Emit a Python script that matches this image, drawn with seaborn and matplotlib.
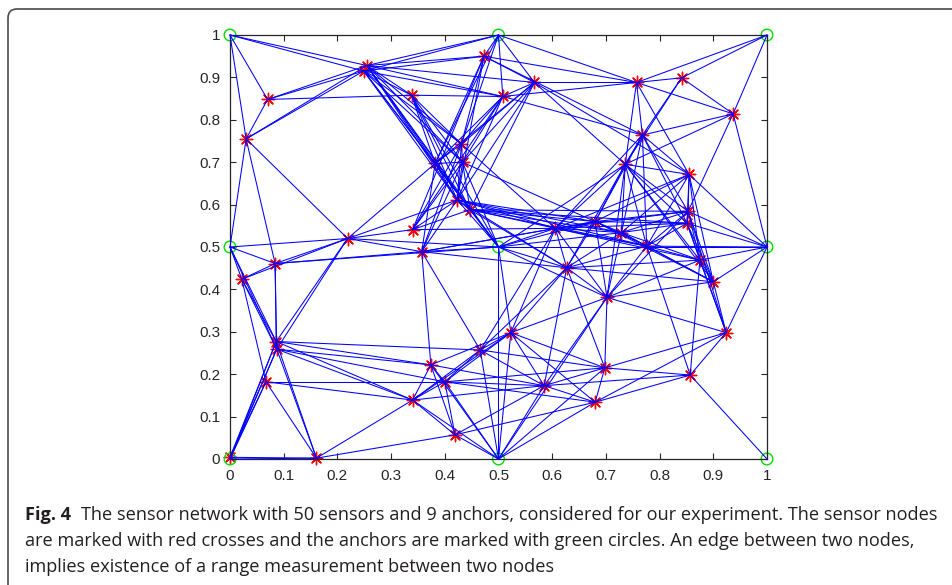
import numpy as np
import pandas as pd
import matplotlib
matplotlib.use("Agg")
import matplotlib.pyplot as plt
import seaborn as sns
from matplotlib.patches import FancyBboxPatch

# ---------------- data ----------------
sensor_names = ["A", "B", "C", "D", "E", "F", "G", "H", "I", "J",
                "K", "L", "M", "N", "O", "P", "Q", "R", "S", "T",
                "U", "V", "W", "X", "Y", "Z", "AA", "AB", "AC", "AD",
                "AE", "AF", "AG", "AH", "AI", "AJ", "AK", "AL", "AM", "AN",
                "AO", "AP", "AQ", "AR", "AS", "AT", "AU", "AV", "AW", "AX"]
sensor_x = [0.255, 0.249, 0.070, 0.030, 0.338, 0.473, 0.508, 0.567, 0.757, 0.841,
            0.937, 0.768, 0.736, 0.431, 0.382, 0.433, 0.423, 0.447, 0.340, 0.219,
            0.357, 0.022, 0.084, 0.086, 0.087, 0.067, 0.000, 0.161, 0.340, 0.374,
            0.400, 0.419, 0.466, 0.523, 0.585, 0.680, 0.698, 0.702, 0.627, 0.857,
            0.924, 0.900, 0.875, 0.776, 0.606, 0.680, 0.729, 0.853, 0.851, 0.855]
sensor_y = [0.928, 0.915, 0.848, 0.755, 0.858, 0.950, 0.855, 0.888, 0.888, 0.899,
            0.814, 0.764, 0.695, 0.743, 0.697, 0.700, 0.611, 0.588, 0.541, 0.520,
            0.489, 0.424, 0.461, 0.277, 0.259, 0.182, 0.004, 0.002, 0.139, 0.222,
            0.182, 0.057, 0.257, 0.298, 0.173, 0.134, 0.215, 0.381, 0.451, 0.198,
            0.298, 0.418, 0.469, 0.502, 0.544, 0.560, 0.534, 0.584, 0.556, 0.671]

anchor_names = ["BL", "BM", "BR", "ML", "MM", "MR", "TL", "TM", "TR"]
anchor_x = [0.0, 0.5, 1.0, 0.0, 0.5, 1.0, 0.0, 0.5, 1.0]
anchor_y = [0.0, 0.0, 0.0, 0.5, 0.5, 0.5, 1.0, 1.0, 1.0]

edges = """
TL-A TL-B TL-C TL-D
C-A C-B C-E C-D
D-A D-B D-T D-ML D-W
A-E B-E A-F B-F A-TM B-TM A-G B-G A-H A-N A-O A-P A-Q A-R A-MM B-N B-O B-P B-Q B-R
E-G E-N E-O E-P E-Q E-R E-MM
F-TM F-H F-I F-L F-N F-O F-Q F-S
TM-G TM-H TM-N TM-O TM-I
G-H G-I G-L G-N G-O G-P G-Q G-S
H-I H-M H-AX H-N H-O H-P H-Q H-R
I-J I-TR I-K I-L I-M I-AX
J-TR J-K J-L J-M
K-TR K-L K-M K-AV K-MR
L-M L-AX L-AV L-AW L-AR L-AS L-AT L-AU
M-AX M-AS M-AT M-AU M-AR M-AL M-AM M-MM M-AV M-AW M-AP M-AQ
AX-MR AX-AV AX-AW AX-AS AX-AT AX-AU AX-AR AX-AQ AX-AP
N-O N-P O-P O-Q P-Q Q-R N-Q P-R O-R
Q-AS R-AS Q-AT R-AT R-AU Q-AU R-AV R-AW R-AR Q-AR Q-MM R-MM O-MM P-MM N-AS P-AT
T-V T-W T-X T-Y T-S T-O T-Q T-MM T-U T-ML
S-AS S-N S-P S-Q S-R
U-W U-AG U-AD U-MM U-AS U-AT U-N U-O U-P U-Q
ML-V ML-W ML-X ML-Y
V-W V-X V-Y V-Z
W-X W-Y W-MM
X-Y X-BL Y-BL X-AA Y-AA X-AB Y-AB X-AD Y-AD X-AC Y-AC Y-AE X-AG
Z-AA Z-AB Z-AC Z-AE Z-BL
AA-AB BL-AB
AC-AB AC-AD AC-AE AC-AF AC-AG AC-AH AC-AI AC-BM
AD-AE AD-AF AD-BM AD-AI AD-AH
AE-AF AE-BM AE-AH AE-AG AE-AI AE-AJ AE-AK
AF-AB AF-BM AF-AJ AF-AI
AG-AH AG-BM AG-AI AG-AM AG-AS AG-AK
AH-BM AH-AI AH-AK AH-AL AH-AM AH-AS AH-MM AH-AJ
AI-BM AI-AJ AI-AK AI-AL AI-AM AI-AN
AJ-BM AJ-AK AJ-AN AJ-AO
AK-AL AK-AN AK-AO AK-BM AK-AM
AL-AM AL-AS AL-AT AL-AU AL-AR AL-AV AL-AQ AL-AO AL-AP AL-BM AL-MM
AN-BR AN-AO AN-AQ AN-AR
AO-MR AO-AP AO-AQ AO-AV AO-AW
AP-MR AP-AQ AP-AR AP-AU AP-AT AP-AM AP-AV AP-AW
AQ-MR AQ-AR AQ-AU AQ-AS AQ-AM AQ-AV AQ-AW
AR-MR AR-AS AR-AT AR-AU AR-AV AR-AW AR-AM
AS-AT AS-AU AS-AV AS-AW AS-AM AS-MM
AT-AU AT-AV AT-AW AT-AM AT-MM
AU-AV AU-AW AU-AM AU-MM
AV-AW AV-MR AW-MR
AM-MM AM-U AM-R AM-Q
MM-MR MM-BM
""".split()

x_ticks = [0, 0.1, 0.2, 0.3, 0.4, 0.5, 0.6, 0.7, 0.8, 0.9, 1]
x_tick_labels = ["0", "0.1", "0.2", "0.3", "0.4", "0.5", "0.6", "0.7", "0.8", "0.9", "1"]
y_ticks = [0, 0.1, 0.2, 0.3, 0.4, 0.5, 0.6, 0.7, 0.8, 0.9, 1]
y_tick_labels = ["0", "0.1", "0.2", "0.3", "0.4", "0.5", "0.6", "0.7", "0.8", "0.9", "1"]

caption_bold = "Fig. 4"
caption_lines = [
    "The sensor network with 50 sensors and 9 anchors, considered for our experiment. The sensor nodes",
    "are marked with red crosses and the anchors are marked with green circles. An edge between two nodes,",
    "implies existence of a range measurement between two nodes",
]

# ---------------- build tables ----------------
coords = {}
for n, x, y in zip(sensor_names, sensor_x, sensor_y):
    coords[n] = (x, y)
for n, x, y in zip(anchor_names, anchor_x, anchor_y):
    coords[n] = (x, y)

rows = []
for k, e in enumerate(edges):
    a, b = e.split("-")
    for n in (a, b):
        rows.append({"edge": k, "x": coords[n][0], "y": coords[n][1]})
edge_df = pd.DataFrame(rows)
sensor_df = pd.DataFrame({"x": sensor_x, "y": sensor_y})
anchor_df = pd.DataFrame({"x": anchor_x, "y": anchor_y})

# ---------------- figure ----------------
sns.set_theme(style="white")
plt.rcParams["font.family"] = ["Liberation Sans", "DejaVu Sans"]

W, H = 953, 585
fig = plt.figure(figsize=(W / 100, H / 100), dpi=100)
fig.patch.set_facecolor("white")

# outer rounded frame
frame = FancyBboxPatch((8, -40), 1000, H - 9 + 40, boxstyle="round,pad=0,rounding_size=9",
                       transform=None, facecolor="none", edgecolor="#4a4a4a", lw=1.2)
fig.patches.append(frame)

ax = fig.add_axes([230 / W, (H - 459) / H, 537 / W, 424 / H])

sns.scatterplot(data=sensor_df, x="x", y="y", ax=ax, marker=(8, 2, 0), color="#ff0000",
                s=80, linewidth=1.0, zorder=2, clip_on=False, legend=False)
sns.scatterplot(data=anchor_df, x="x", y="y", ax=ax, marker="o", s=70,
                facecolor="none", edgecolor="#00e000", linewidth=1.0, zorder=2,
                clip_on=False, legend=False)
sns.lineplot(data=edge_df, x="x", y="y", units="edge", estimator=None, sort=False,
             color="#0000ff", lw=0.75, ax=ax, zorder=3, legend=False)
for ln in ax.lines:
    ln.set_clip_on(False)

ax.set_xlim(0, 1)
ax.set_ylim(0, 1)
ax.set_xticks(x_ticks)
ax.set_xticklabels(x_tick_labels)
ax.set_yticks(y_ticks)
ax.set_yticklabels(y_tick_labels)
ax.set_xlabel("")
ax.set_ylabel("")
for s in ax.spines.values():
    s.set_visible(True)
    s.set_color("#262626")
    s.set_linewidth(0.9)
ax.tick_params(axis="both", which="both", direction="in", length=4, width=0.8,
               colors="#262626", labelsize=11, top=True, right=True,
               bottom=True, left=True)
ax.tick_params(axis="x", pad=7)
ax.tick_params(axis="y", pad=7)

# ---------------- caption ----------------
cap_font = ["Open Sans", "DejaVu Sans"]
renderer = fig.canvas.get_renderer()
fs0 = 12
tb = fig.text(25 / W, 1 - 520 / H, caption_bold, fontsize=fs0, fontweight="bold",
              family=cap_font, color="#231f20", va="baseline", ha="left")
tr = fig.text(0, 1 - 520 / H, caption_lines[0], fontsize=fs0, family=cap_font,
              color="#231f20", va="baseline", ha="left")
wb = tb.get_window_extent(renderer).width
wr = tr.get_window_extent(renderer).width
gap = 10
scale = (932 - 25 - gap) / (wb + wr)
fs = fs0 * scale
tb.set_fontsize(fs)
tr.set_fontsize(fs)
wb = tb.get_window_extent(renderer).width
tr.set_x((25 + wb + gap) / W)
for i, line in enumerate(caption_lines[1:]):
    fig.text(25 / W, 1 - (546 + 26 * i) / H, line, fontsize=fs, family=cap_font,
             color="#231f20", va="baseline", ha="left")

fig.savefig("out.png", dpi=100)
